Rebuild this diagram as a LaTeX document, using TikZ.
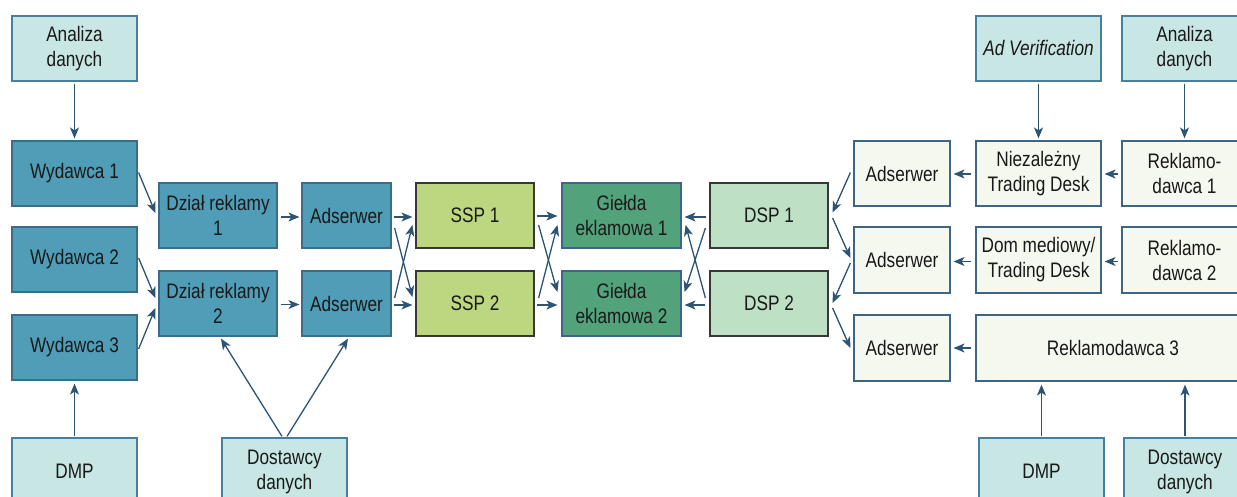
\documentclass[tikz,border=0pt]{standalone}
\usepackage{fontspec}
\setmainfont{Liberation Sans}[FakeStretch=0.82]
\usetikzlibrary{arrows.meta,calc}

\definecolor{txt}{RGB}{25,25,25}
\definecolor{arrc}{RGB}{45,85,115}
\definecolor{bluefill}{RGB}{80,157,183}
\definecolor{blueline}{RGB}{58,108,140}
\definecolor{tealfill}{RGB}{200,230,228}
\definecolor{tealline}{RGB}{70,128,160}
\definecolor{limefill}{RGB}{189,215,128}
\definecolor{greenfill}{RGB}{82,163,123}
\definecolor{greenline}{RGB}{60,100,140}
\definecolor{mintfill}{RGB}{190,224,197}
\definecolor{darkline}{RGB}{55,55,55}
\definecolor{palefill}{RGB}{245,248,238}
\definecolor{paleline}{RGB}{62,102,132}

\tikzset{
  box/.style={draw, line width=1.2pt, inner sep=0pt, align=center,
    font=\fontsize{21}{25}\selectfont, text=txt},
  bluebox/.style={box, fill=bluefill, draw=blueline},
  tealbox/.style={box, fill=tealfill, draw=tealline},
  limebox/.style={box, fill=limefill, draw=darkline},
  greenbox/.style={box, fill=greenfill, draw=greenline},
  mintbox/.style={box, fill=mintfill, draw=darkline},
  palebox/.style={box, fill=palefill, draw=paleline},
  arr/.style={draw=arrc, line width=1.3pt,
    -{Stealth[length=11pt, width=9pt, inset=3pt]}}
}

% box by its corners: name, style, x1, y1, x2, y2, text
\newcommand{\bx}[7]{%
  \node[#2, minimum width={(#5-#3)*1pt}, minimum height={(#6-#4)*1pt}]
    (#1) at ({(#3+#5)/2},{(#4+#6)/2}) {#7};}

\begin{document}
\begin{tikzpicture}[x=1pt, y=-1pt]
\clip (0,0) rectangle (1237,497);
\fill[white] (0,0) rectangle (1237,497);

% publisher side
\bx{anaL}{tealbox}{12}{16}{137}{81}{Analiza\\danych}
\bx{wyd1}{bluebox}{12}{141}{137}{206}{Wydawca 1}
\bx{wyd2}{bluebox}{12}{227}{137}{292}{Wydawca 2}
\bx{wyd3}{bluebox}{12}{315}{137}{380}{Wydawca 3}
\bx{dmpL}{tealbox}{12}{438}{137}{505}{DMP}
\bx{dostL}{tealbox}{222}{438}{347}{505}{Dostawcy\\danych}
\bx{dz1}{bluebox}{159}{183}{277}{248}{Dział reklamy\\1}
\bx{dz2}{bluebox}{159}{271}{277}{336}{Dział reklamy\\2}
\bx{adsL1}{bluebox}{302}{183}{391}{248}{Adserwer}
\bx{adsL2}{bluebox}{302}{271}{391}{336}{Adserwer}

% exchange layer
\bx{ssp1}{limebox}{416}{183}{534}{248}{SSP 1}
\bx{ssp2}{limebox}{416}{271}{534}{336}{SSP 2}
\bx{gie1}{greenbox}{562}{183}{681}{248}{Giełda\\eklamowa 1}
\bx{gie2}{greenbox}{562}{271}{681}{336}{Giełda\\eklamowa 2}
\bx{dsp1}{mintbox}{710}{183}{828}{248}{DSP 1}
\bx{dsp2}{mintbox}{710}{271}{828}{336}{DSP 2}

% advertiser side
\bx{adsR1}{palebox}{854}{141}{950}{206}{Adserwer}
\bx{adsR2}{palebox}{854}{227}{950}{293}{Adserwer}
\bx{adsR3}{palebox}{854}{315}{950}{381}{Adserwer}
\bx{niez}{palebox}{976}{141}{1101}{206}{Niezależny\\Trading Desk}
\bx{dom}{palebox}{976}{227}{1101}{293}{Dom mediowy/\\Trading Desk}
\bx{rek1}{palebox}{1122}{141}{1247}{206}{Reklamo-\\dawca 1}
\bx{rek2}{palebox}{1122}{227}{1247}{293}{Reklamo-\\dawca 2}
\bx{rek3}{palebox}{976}{315}{1250}{381}{Reklamodawca 3}
\bx{adv}{tealbox}{976}{16}{1101}{81}{\itshape Ad Verification}
\bx{anaR}{tealbox}{1122}{16}{1247}{81}{Analiza\\danych}
\bx{dmpR}{tealbox}{979}{438}{1104}{505}{DMP}
\bx{dostR}{tealbox}{1124}{438}{1246}{505}{Dostawcy\\danych}

% publisher side connectors
\draw[arr] ([shift={(0,2)}]anaL.south) -- ([shift={(0,-2)}]wyd1.north);
\draw[arr] ([shift={(0,-1)}]dmpL.north) -- ([shift={(0,3)}]wyd3.south);
\draw[arr] ([shift={(1,-1)}]wyd1.east) -- ([shift={(-3,-2.5)}]dz1.west);
\draw[arr] ([shift={(1,-1.5)}]wyd2.east) -- ([shift={(-3,-5.5)}]dz2.west);
\draw[arr] ([shift={(1,1.5)}]wyd3.east) -- ([shift={(-3,4.5)}]dz2.west);
\draw[arr] ([shift={(3,1.5)}]dz1.east) -- ([shift={(-2,1.5)}]adsL1.west);
\draw[arr] ([shift={(3,1)}]dz2.east) -- ([shift={(-2,1)}]adsL2.west);
\draw[arr] ([shift={(-2.5,-1)}]dostL.north) -- ([shift={(3,2)}]dz2.south);
\draw[arr] ([shift={(2.5,-1)}]dostL.north) -- ([shift={(1.5,2)}]adsL2.south);

% adserwer to SSP
\draw[arr] ([shift={(2,1.5)}]adsL1.east) -- ([shift={(-3,1.5)}]ssp1.west);
\draw[arr] ([shift={(3,12.5)}]adsL1.east) -- ([shift={(-3,-6.5)}]ssp2.west);
\draw[arr] ([shift={(3,-5.5)}]adsL2.east) -- ([shift={(-3,9.5)}]ssp1.west);
\draw[arr] ([shift={(2,1.5)}]adsL2.east) -- ([shift={(-3,1.5)}]ssp2.west);

% SSP to exchanges
\draw[arr] ([shift={(2,0.5)}]ssp1.east) -- ([shift={(-4,0.5)}]gie1.west);
\draw[arr] ([shift={(4,9.5)}]ssp1.east) -- ([shift={(-4,-11.5)}]gie2.west);
\draw[arr] ([shift={(4,-5.5)}]ssp2.east) -- ([shift={(-4,9.5)}]gie1.west);
\draw[arr] ([shift={(2,1.5)}]ssp2.east) -- ([shift={(-4,1.5)}]gie2.west);

% DSP to exchanges
\draw[arr] ([shift={(-3,1.5)}]dsp1.west) -- ([shift={(3,1.5)}]gie1.east);
\draw[arr] ([shift={(-4,12.5)}]dsp1.west) -- ([shift={(3,-11.5)}]gie2.east);
\draw[arr] ([shift={(-4,-5.5)}]dsp2.west) -- ([shift={(4,9.5)}]gie1.east);
\draw[arr] ([shift={(-4,1.5)}]dsp2.west) -- ([shift={(3,1.5)}]gie2.east);

% advertiser adserwers and DSPs
\draw[arr] ([shift={(-3,-1)}]adsR1.west) -- ([shift={(4,-3)}]dsp1.east);
\draw[arr] ([shift={(4,2.5)}]dsp1.east) -- ([shift={(-3,-2)}]adsR2.west);
\draw[arr] ([shift={(-3,3)}]adsR2.west) -- ([shift={(4,-0.5)}]dsp2.east);
\draw[arr] ([shift={(4,4.5)}]dsp2.east) -- ([shift={(-3,0)}]adsR3.west);

% advertiser side connectors
\draw[arr] ([shift={(-4,0.5)}]niez.west) -- ([shift={(3,0.5)}]adsR1.east);
\draw[arr] ([shift={(-3,0.5)}]rek1.west) -- ([shift={(3,0.5)}]niez.east);
\draw[arr] ([shift={(-4,1.5)}]dom.west) -- ([shift={(3,1.5)}]adsR2.east);
\draw[arr] ([shift={(-3,1.5)}]rek2.west) -- ([shift={(3,1.5)}]dom.east);
\draw[arr] ([shift={(-4,0)}]rek3.west) -- ([shift={(3,0)}]adsR3.east);
\draw[arr] ([shift={(0,2)}]adv.south) -- ([shift={(0,-2)}]niez.north);
\draw[arr] ([shift={(0,2)}]anaR.south) -- ([shift={(0,-2)}]rek1.north);
\draw[arr] ([shift={(0,-1)}]dmpR.north) -- ($(dmpR.north |- rek3.south)+(0,3)$);
\draw[arr] ([shift={(0,-1)}]dostR.north) -- ($(dostR.north |- rek3.south)+(0,3)$);
\end{tikzpicture}
\end{document}
